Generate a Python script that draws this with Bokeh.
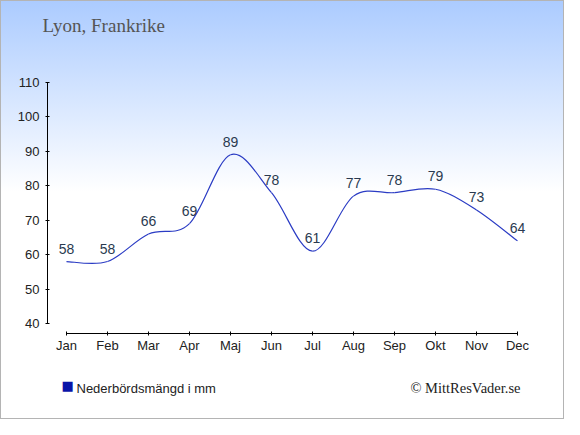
from bokeh.plotting import figure
from bokeh.models import Range1d, FixedTicker, Label, LabelSet, ColumnDataSource
from bokeh.embed import file_html
from bokeh.resources import INLINE
from bokeh.core.properties import value

months = ["Jan", "Feb", "Mar", "Apr", "Maj", "Jun", "Jul", "Aug", "Sep", "Okt", "Nov", "Dec"]
precip = [58, 58, 66, 69, 89, 78, 61, 77, 78, 79, 73, 64]
y_ticks = [40, 50, 60, 70, 80, 90, 100, 110]
title_text = "Lyon, Frankrike"
legend_text = "Nederbördsmängd i mm"
credit_text = "© MittResVader.se"

W, H = 564, 419
BL, BR, BT, BB = 47, 25, 82, 86
X0, X1 = 0.537, 12.537
Y0, Y1 = 37.1, 110.0

p = figure(width=W, height=H, output_backend="svg", toolbar_location=None,
           x_range=Range1d(X0, X1), y_range=Range1d(Y0, Y1),
           min_border_left=BL, min_border_right=BR, min_border_top=BT, min_border_bottom=BB)
p.background_fill_color = None
p.border_fill_color = None
p.outline_line_color = None
p.grid.visible = False
p.styles = {"background-image": "linear-gradient(to bottom, #abcbff 0px, #ffffff 192px)",
            "box-shadow": "inset 0 0 0 1px #b4b4b4"}

xs = list(range(1, len(months) + 1))

xa = p.xaxis[0]
xa.ticker = FixedTicker(ticks=xs)
xa.major_label_overrides = {i: m for i, m in zip(xs, months)}
xa.bounds = (1, 12)
xa.minor_tick_line_color = None
xa.major_tick_in = 2
xa.major_tick_out = 2
xa.axis_line_color = "black"
xa.major_tick_line_color = "black"
xa.major_label_text_font = "Liberation Sans"
xa.major_label_text_font_size = "13px"
xa.major_label_text_color = "#222222"
xa.major_label_standoff = 2

ya = p.yaxis[0]
ya.ticker = FixedTicker(ticks=y_ticks)
ya.bounds = (40, 110)
ya.minor_tick_line_color = None
ya.major_tick_in = 2
ya.major_tick_out = 2
ya.axis_line_color = "black"
ya.major_tick_line_color = "black"
ya.major_label_text_font = "Liberation Sans"
ya.major_label_text_font_size = "13px"
ya.major_label_text_color = "#222222"
ya.major_label_standoff = 6

# smooth (Catmull-Rom) curve through the data points
px = [xs[0]] + xs + [xs[-1]]
py = [precip[0]] + precip + [precip[-1]]
seg = dict(x0=[], y0=[], x1=[], y1=[], cx0=[], cy0=[], cx1=[], cy1=[])
for i in range(1, len(px) - 2):
    seg["x0"].append(px[i]); seg["y0"].append(py[i])
    seg["x1"].append(px[i + 1]); seg["y1"].append(py[i + 1])
    seg["cx0"].append(px[i] + (px[i + 1] - px[i - 1]) / 6)
    seg["cy0"].append(py[i] + (py[i + 1] - py[i - 1]) / 6)
    seg["cx1"].append(px[i + 1] - (px[i + 2] - px[i]) / 6)
    seg["cy1"].append(py[i + 1] - (py[i + 2] - py[i]) / 6)
p.bezier(x0="x0", y0="y0", x1="x1", y1="y1", cx0="cx0", cy0="cy0", cx1="cx1", cy1="cy1",
         source=ColumnDataSource(seg), line_color="#2b3cc4", line_width=1.2)

# data labels
src = ColumnDataSource(dict(x=xs, y=precip, t=[str(v) for v in precip]))
p.add_layout(LabelSet(x="x", y="y", text="t", source=src, text_align="center",
                      text_baseline="alphabetic", y_offset=8, text_font=value("Liberation Sans"),
                      text_font_size="14px", text_color="#2a3a50"))

def sl(cx, cy, text, side, **kw):
    p.add_layout(Label(x=cx, y=cy, x_units="screen", y_units="screen", text=text,
                       text_baseline="alphabetic", **kw), side)

sl(-5, 57, title_text, "above", text_font="Liberation Serif", text_font_size="19px", text_color="#555555")
sl(14, -15, "■", "below", text_font="DejaVu Sans", text_font_size="13px", text_color="#0a14a8")
sl(29, -3, legend_text, "below", text_font="Liberation Sans", text_font_size="13px", text_color="#222222")
sl(473, 14, credit_text, "below", text_font="Liberation Serif", text_font_size="14.5px", text_color="#222222",
   text_align="right")

open("out.html", "w").write(file_html(p, INLINE))
